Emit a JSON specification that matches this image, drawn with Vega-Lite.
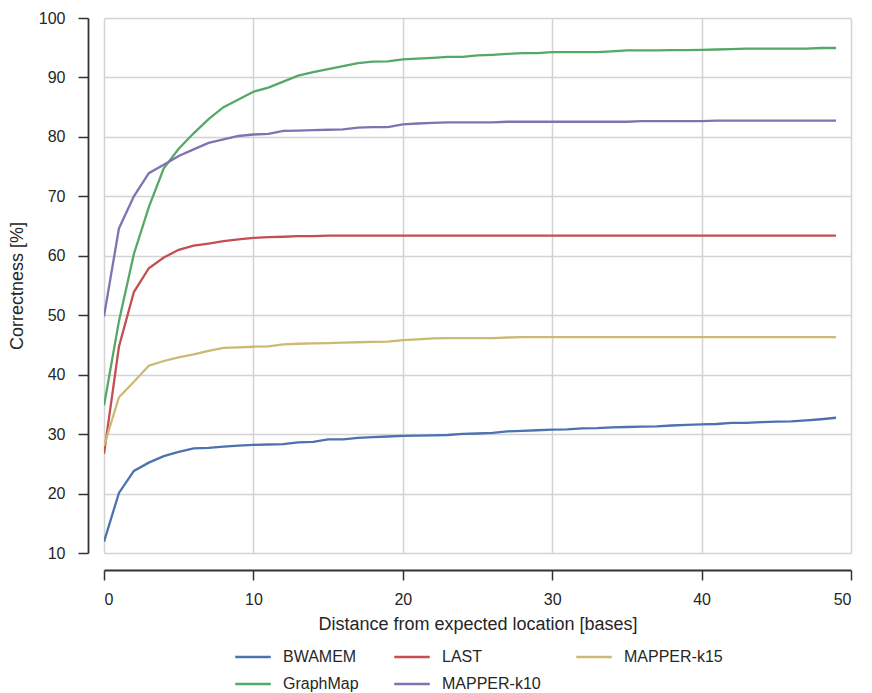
{
  "$schema": "https://vega.github.io/schema/vega-lite/v6.json",
  "autosize": "none",
  "width": 747,
  "height": 535,
  "padding": {"left": 104, "top": 18, "right": 21, "bottom": 140},
  "background": "white",
  "data": {"values": [
    {"s":"BWAMEM","x":0,"y":11.9},{"s":"BWAMEM","x":1,"y":20.1},{"s":"BWAMEM","x":2,"y":23.8},{"s":"BWAMEM","x":3,"y":25.2},{"s":"BWAMEM","x":4,"y":26.3},{"s":"BWAMEM","x":5,"y":27.0},{"s":"BWAMEM","x":6,"y":27.6},{"s":"BWAMEM","x":7,"y":27.7},{"s":"BWAMEM","x":8,"y":27.9},{"s":"BWAMEM","x":9,"y":28.05},
    {"s":"BWAMEM","x":10,"y":28.2},{"s":"BWAMEM","x":11,"y":28.25},{"s":"BWAMEM","x":12,"y":28.3},{"s":"BWAMEM","x":13,"y":28.6},{"s":"BWAMEM","x":14,"y":28.7},{"s":"BWAMEM","x":15,"y":29.1},{"s":"BWAMEM","x":16,"y":29.1},{"s":"BWAMEM","x":17,"y":29.35},{"s":"BWAMEM","x":18,"y":29.5},{"s":"BWAMEM","x":19,"y":29.6},
    {"s":"BWAMEM","x":20,"y":29.7},{"s":"BWAMEM","x":21,"y":29.75},{"s":"BWAMEM","x":22,"y":29.8},{"s":"BWAMEM","x":23,"y":29.85},{"s":"BWAMEM","x":24,"y":30.05},{"s":"BWAMEM","x":25,"y":30.1},{"s":"BWAMEM","x":26,"y":30.2},{"s":"BWAMEM","x":27,"y":30.45},{"s":"BWAMEM","x":28,"y":30.55},{"s":"BWAMEM","x":29,"y":30.65},
    {"s":"BWAMEM","x":30,"y":30.75},{"s":"BWAMEM","x":31,"y":30.8},{"s":"BWAMEM","x":32,"y":30.95},{"s":"BWAMEM","x":33,"y":31.0},{"s":"BWAMEM","x":34,"y":31.15},{"s":"BWAMEM","x":35,"y":31.2},{"s":"BWAMEM","x":36,"y":31.25},{"s":"BWAMEM","x":37,"y":31.3},{"s":"BWAMEM","x":38,"y":31.45},{"s":"BWAMEM","x":39,"y":31.55},
    {"s":"BWAMEM","x":40,"y":31.65},{"s":"BWAMEM","x":41,"y":31.7},{"s":"BWAMEM","x":42,"y":31.9},{"s":"BWAMEM","x":43,"y":31.9},{"s":"BWAMEM","x":44,"y":32.0},{"s":"BWAMEM","x":45,"y":32.1},{"s":"BWAMEM","x":46,"y":32.15},{"s":"BWAMEM","x":47,"y":32.3},{"s":"BWAMEM","x":48,"y":32.5},{"s":"BWAMEM","x":49,"y":32.75},

    {"s":"GraphMap","x":0,"y":34.8},{"s":"GraphMap","x":1,"y":49.0},{"s":"GraphMap","x":2,"y":60.3},{"s":"GraphMap","x":3,"y":68.2},{"s":"GraphMap","x":4,"y":74.7},{"s":"GraphMap","x":5,"y":78.0},{"s":"GraphMap","x":6,"y":80.6},{"s":"GraphMap","x":7,"y":83.0},{"s":"GraphMap","x":8,"y":85.0},{"s":"GraphMap","x":9,"y":86.3},
    {"s":"GraphMap","x":10,"y":87.6},{"s":"GraphMap","x":11,"y":88.3},{"s":"GraphMap","x":12,"y":89.3},{"s":"GraphMap","x":13,"y":90.3},{"s":"GraphMap","x":14,"y":90.9},{"s":"GraphMap","x":15,"y":91.4},{"s":"GraphMap","x":16,"y":91.9},{"s":"GraphMap","x":17,"y":92.4},{"s":"GraphMap","x":18,"y":92.65},{"s":"GraphMap","x":19,"y":92.7},
    {"s":"GraphMap","x":20,"y":93.05},{"s":"GraphMap","x":21,"y":93.15},{"s":"GraphMap","x":22,"y":93.3},{"s":"GraphMap","x":23,"y":93.45},{"s":"GraphMap","x":24,"y":93.45},{"s":"GraphMap","x":25,"y":93.7},{"s":"GraphMap","x":26,"y":93.8},{"s":"GraphMap","x":27,"y":93.95},{"s":"GraphMap","x":28,"y":94.1},{"s":"GraphMap","x":29,"y":94.1},
    {"s":"GraphMap","x":30,"y":94.25},{"s":"GraphMap","x":31,"y":94.25},{"s":"GraphMap","x":32,"y":94.25},{"s":"GraphMap","x":33,"y":94.25},{"s":"GraphMap","x":34,"y":94.4},{"s":"GraphMap","x":35,"y":94.55},{"s":"GraphMap","x":36,"y":94.55},{"s":"GraphMap","x":37,"y":94.55},{"s":"GraphMap","x":38,"y":94.6},{"s":"GraphMap","x":39,"y":94.6},
    {"s":"GraphMap","x":40,"y":94.65},{"s":"GraphMap","x":41,"y":94.7},{"s":"GraphMap","x":42,"y":94.75},{"s":"GraphMap","x":43,"y":94.85},{"s":"GraphMap","x":44,"y":94.85},{"s":"GraphMap","x":45,"y":94.85},{"s":"GraphMap","x":46,"y":94.85},{"s":"GraphMap","x":47,"y":94.85},{"s":"GraphMap","x":48,"y":94.95},{"s":"GraphMap","x":49,"y":94.95},

    {"s":"LAST","x":0,"y":26.7},{"s":"LAST","x":1,"y":44.7},{"s":"LAST","x":2,"y":53.9},{"s":"LAST","x":3,"y":57.9},{"s":"LAST","x":4,"y":59.7},{"s":"LAST","x":5,"y":61.0},{"s":"LAST","x":6,"y":61.7},{"s":"LAST","x":7,"y":62.05},{"s":"LAST","x":8,"y":62.45},{"s":"LAST","x":9,"y":62.75},
    {"s":"LAST","x":10,"y":63.0},{"s":"LAST","x":11,"y":63.15},{"s":"LAST","x":12,"y":63.2},{"s":"LAST","x":13,"y":63.3},{"s":"LAST","x":14,"y":63.3},{"s":"LAST","x":15,"y":63.4},{"s":"LAST","x":16,"y":63.4},{"s":"LAST","x":17,"y":63.4},{"s":"LAST","x":18,"y":63.4},{"s":"LAST","x":19,"y":63.4},
    {"s":"LAST","x":20,"y":63.4},{"s":"LAST","x":21,"y":63.4},{"s":"LAST","x":22,"y":63.4},{"s":"LAST","x":23,"y":63.4},{"s":"LAST","x":24,"y":63.4},{"s":"LAST","x":25,"y":63.4},{"s":"LAST","x":26,"y":63.4},{"s":"LAST","x":27,"y":63.4},{"s":"LAST","x":28,"y":63.4},{"s":"LAST","x":29,"y":63.4},
    {"s":"LAST","x":30,"y":63.4},{"s":"LAST","x":31,"y":63.4},{"s":"LAST","x":32,"y":63.4},{"s":"LAST","x":33,"y":63.4},{"s":"LAST","x":34,"y":63.4},{"s":"LAST","x":35,"y":63.4},{"s":"LAST","x":36,"y":63.4},{"s":"LAST","x":37,"y":63.4},{"s":"LAST","x":38,"y":63.4},{"s":"LAST","x":39,"y":63.4},
    {"s":"LAST","x":40,"y":63.4},{"s":"LAST","x":41,"y":63.4},{"s":"LAST","x":42,"y":63.4},{"s":"LAST","x":43,"y":63.4},{"s":"LAST","x":44,"y":63.4},{"s":"LAST","x":45,"y":63.4},{"s":"LAST","x":46,"y":63.4},{"s":"LAST","x":47,"y":63.4},{"s":"LAST","x":48,"y":63.4},{"s":"LAST","x":49,"y":63.4},

    {"s":"MAPPER-k10","x":0,"y":49.8},{"s":"MAPPER-k10","x":1,"y":64.6},{"s":"MAPPER-k10","x":2,"y":70.0},{"s":"MAPPER-k10","x":3,"y":73.9},{"s":"MAPPER-k10","x":4,"y":75.3},{"s":"MAPPER-k10","x":5,"y":76.8},{"s":"MAPPER-k10","x":6,"y":77.9},{"s":"MAPPER-k10","x":7,"y":79.0},{"s":"MAPPER-k10","x":8,"y":79.6},{"s":"MAPPER-k10","x":9,"y":80.15},
    {"s":"MAPPER-k10","x":10,"y":80.4},{"s":"MAPPER-k10","x":11,"y":80.5},{"s":"MAPPER-k10","x":12,"y":81.0},{"s":"MAPPER-k10","x":13,"y":81.05},{"s":"MAPPER-k10","x":14,"y":81.15},{"s":"MAPPER-k10","x":15,"y":81.2},{"s":"MAPPER-k10","x":16,"y":81.25},{"s":"MAPPER-k10","x":17,"y":81.55},{"s":"MAPPER-k10","x":18,"y":81.65},{"s":"MAPPER-k10","x":19,"y":81.65},
    {"s":"MAPPER-k10","x":20,"y":82.1},{"s":"MAPPER-k10","x":21,"y":82.25},{"s":"MAPPER-k10","x":22,"y":82.35},{"s":"MAPPER-k10","x":23,"y":82.45},{"s":"MAPPER-k10","x":24,"y":82.45},{"s":"MAPPER-k10","x":25,"y":82.45},{"s":"MAPPER-k10","x":26,"y":82.45},{"s":"MAPPER-k10","x":27,"y":82.55},{"s":"MAPPER-k10","x":28,"y":82.55},{"s":"MAPPER-k10","x":29,"y":82.55},
    {"s":"MAPPER-k10","x":30,"y":82.55},{"s":"MAPPER-k10","x":31,"y":82.55},{"s":"MAPPER-k10","x":32,"y":82.55},{"s":"MAPPER-k10","x":33,"y":82.55},{"s":"MAPPER-k10","x":34,"y":82.55},{"s":"MAPPER-k10","x":35,"y":82.55},{"s":"MAPPER-k10","x":36,"y":82.65},{"s":"MAPPER-k10","x":37,"y":82.65},{"s":"MAPPER-k10","x":38,"y":82.65},{"s":"MAPPER-k10","x":39,"y":82.65},
    {"s":"MAPPER-k10","x":40,"y":82.65},{"s":"MAPPER-k10","x":41,"y":82.75},{"s":"MAPPER-k10","x":42,"y":82.75},{"s":"MAPPER-k10","x":43,"y":82.75},{"s":"MAPPER-k10","x":44,"y":82.75},{"s":"MAPPER-k10","x":45,"y":82.75},{"s":"MAPPER-k10","x":46,"y":82.75},{"s":"MAPPER-k10","x":47,"y":82.75},{"s":"MAPPER-k10","x":48,"y":82.75},{"s":"MAPPER-k10","x":49,"y":82.75},

    {"s":"MAPPER-k15","x":0,"y":28.0},{"s":"MAPPER-k15","x":1,"y":36.2},{"s":"MAPPER-k15","x":2,"y":38.8},{"s":"MAPPER-k15","x":3,"y":41.5},{"s":"MAPPER-k15","x":4,"y":42.3},{"s":"MAPPER-k15","x":5,"y":42.9},{"s":"MAPPER-k15","x":6,"y":43.4},{"s":"MAPPER-k15","x":7,"y":44.0},{"s":"MAPPER-k15","x":8,"y":44.5},{"s":"MAPPER-k15","x":9,"y":44.6},
    {"s":"MAPPER-k15","x":10,"y":44.7},{"s":"MAPPER-k15","x":11,"y":44.75},{"s":"MAPPER-k15","x":12,"y":45.1},{"s":"MAPPER-k15","x":13,"y":45.2},{"s":"MAPPER-k15","x":14,"y":45.25},{"s":"MAPPER-k15","x":15,"y":45.3},{"s":"MAPPER-k15","x":16,"y":45.4},{"s":"MAPPER-k15","x":17,"y":45.45},{"s":"MAPPER-k15","x":18,"y":45.5},{"s":"MAPPER-k15","x":19,"y":45.55},
    {"s":"MAPPER-k15","x":20,"y":45.8},{"s":"MAPPER-k15","x":21,"y":45.95},{"s":"MAPPER-k15","x":22,"y":46.1},{"s":"MAPPER-k15","x":23,"y":46.15},{"s":"MAPPER-k15","x":24,"y":46.15},{"s":"MAPPER-k15","x":25,"y":46.15},{"s":"MAPPER-k15","x":26,"y":46.15},{"s":"MAPPER-k15","x":27,"y":46.25},{"s":"MAPPER-k15","x":28,"y":46.3},{"s":"MAPPER-k15","x":29,"y":46.3},
    {"s":"MAPPER-k15","x":30,"y":46.3},{"s":"MAPPER-k15","x":31,"y":46.3},{"s":"MAPPER-k15","x":32,"y":46.3},{"s":"MAPPER-k15","x":33,"y":46.3},{"s":"MAPPER-k15","x":34,"y":46.3},{"s":"MAPPER-k15","x":35,"y":46.3},{"s":"MAPPER-k15","x":36,"y":46.3},{"s":"MAPPER-k15","x":37,"y":46.3},{"s":"MAPPER-k15","x":38,"y":46.3},{"s":"MAPPER-k15","x":39,"y":46.3},
    {"s":"MAPPER-k15","x":40,"y":46.3},{"s":"MAPPER-k15","x":41,"y":46.3},{"s":"MAPPER-k15","x":42,"y":46.3},{"s":"MAPPER-k15","x":43,"y":46.3},{"s":"MAPPER-k15","x":44,"y":46.3},{"s":"MAPPER-k15","x":45,"y":46.3},{"s":"MAPPER-k15","x":46,"y":46.3},{"s":"MAPPER-k15","x":47,"y":46.3},{"s":"MAPPER-k15","x":48,"y":46.3},{"s":"MAPPER-k15","x":49,"y":46.3}
  ]},
  "mark": {"type": "line", "strokeWidth": 2.3, "clip": true},
  "encoding": {
    "x": {
      "field": "x", "type": "quantitative",
      "scale": {"domain": [0, 50], "nice": false, "zero": false},
      "axis": {"values": [0, 10, 20, 30, 40, 50], "title": "Distance from expected location [bases]", "offset": 17, "labelPadding": 11, "titlePadding": 8}
    },
    "y": {
      "field": "y", "type": "quantitative",
      "scale": {"domain": [10, 100], "nice": false, "zero": false},
      "axis": {"values": [10, 20, 30, 40, 50, 60, 70, 80, 90, 100], "title": "Correctness [%]", "offset": 16, "labelPadding": 13, "titlePadding": 12}
    },
    "color": {
      "field": "s", "type": "nominal",
      "scale": {
        "domain": ["BWAMEM", "LAST", "MAPPER-k15", "GraphMap", "MAPPER-k10"],
        "range": ["#4C72B0", "#C44E52", "#CCB974", "#55A868", "#8172B2"]
      },
      "legend": {
        "title": null,
        "orient": "none",
        "legendX": 130,
        "legendY": 620,
        "direction": "horizontal",
        "columns": 3,
        "symbolType": "stroke",
        "symbolSize": 1260,
        "symbolStrokeWidth": 2.5,
        "labelFont": "Liberation Sans",
        "labelFontSize": 16,
        "labelColor": "#262626",
        "labelOffset": 11,
        "columnPadding": 30,
        "rowPadding": -12
      }
    }
  },
  "config": {
    "view": {"stroke": null},
    "font": "Liberation Sans",
    "axis": {
      "grid": true,
      "gridColor": "#d3d3d3",
      "gridWidth": 1.5,
      "domainColor": "#333333",
      "domainWidth": 1.8,
      "tickColor": "#333333",
      "tickWidth": 1.5,
      "tickSize": 10,
      "labelFont": "Liberation Sans",
      "labelFontSize": 16,
      "labelColor": "#262626",
      "titleFont": "Liberation Sans",
      "titleFontSize": 18,
      "titleFontWeight": "normal",
      "titleColor": "#262626"
    }
  }
}
